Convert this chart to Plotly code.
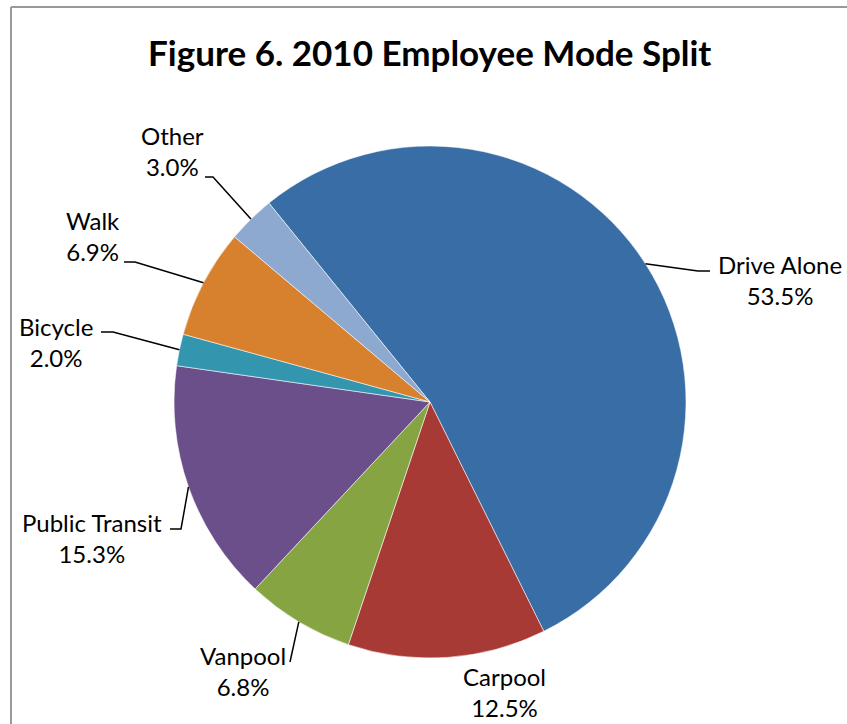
import math
import plotly.graph_objects as go

# Commute mode shares, 2010
modes = ["Drive Alone", "Carpool", "Vanpool", "Public Transit", "Bicycle", "Walk", "Other"]
shares = [53.5, 12.5, 6.8, 15.3, 2.0, 6.9, 3.0]
colors = ["#386DA6", "#A83A36", "#86A441", "#6B4F8B", "#3396AE", "#D7802D", "#8EA9D0"]

W, H = 847, 724
CX, CY, R = 430, 402, 256          # pie centre and radius in pixels
START = -39                          # angle of first slice edge, degrees clockwise from 12 o'clock

# label block centres and leader elbows/ends (pixel layout of the outside labels)
label_pos = {
    "Drive Alone": (780, 280, [(698, 271), (710, 271)]),
    "Carpool": (504, 692, None),
    "Vanpool": (243, 671, [(290, 662)]),
    "Public Transit": (92, 538, [(181, 529), (170, 529)]),
    "Bicycle": (56, 342, [(113, 332), (101, 332)]),
    "Walk": (93, 236, [(135, 262), (124, 262)]),
    "Other": (172, 151, [(213, 177), (205, 177)]),
}

fig = go.Figure()

fig.add_trace(go.Pie(
    labels=modes, values=shares, sort=False, direction="clockwise",
    rotation=START, textinfo="none", hoverinfo="label+percent",
    marker=dict(colors=colors, line=dict(color="rgba(255,255,255,0.55)", width=1)),
    domain=dict(x=[(CX - R) / W, (CX + R) / W], y=[(H - CY - R) / H, (H - CY + R) / H]),
    showlegend=False,
))

# invisible pixel-unit axes used to place labels, leaders and the frame
fig.update_layout(
    xaxis=dict(range=[0, W], visible=False, domain=[0, 1], fixedrange=True),
    yaxis=dict(range=[H, 0], visible=False, domain=[0, 1], fixedrange=True),
)

shapes = []
annotations = []
total = sum(shares)
cum = 0.0
for name, v in zip(modes, shares):
    mid = math.radians(START + (cum + v / 2) / total * 360)
    cum += v
    ex, ey = CX + R * math.sin(mid), CY - R * math.cos(mid)
    lx, ly, leader = label_pos[name]
    if leader:
        pts = [(ex, ey)] + leader
        path = "M " + " L ".join(f"{x:.1f},{y:.1f}" for x, y in pts)
        shapes.append(dict(type="path", path=path, xref="x", yref="y",
                           line=dict(color="black", width=1.5), layer="above"))
    annotations.append(dict(
        x=lx, y=ly, xref="x", yref="y", showarrow=False,
        text=f"{name}<br>{v:.1f}%", align="center",
        font=dict(family="Lato, Open Sans, sans-serif", size=24, color="black"),
        xanchor="center", yanchor="middle",
    ))

annotations.append(dict(
    x=429, y=52, xref="x", yref="y", showarrow=False,
    text="<b>Figure 6. 2010 Employee Mode Split</b>",
    font=dict(family="Lato, Open Sans, sans-serif", size=35, color="black"),
    xanchor="center", yanchor="middle",
))

# chart frame (left and top edges visible)
shapes.append(dict(type="line", x0=11, x1=11, y0=7, y1=H, xref="x", yref="y",
                   line=dict(color="#999999", width=2)))
shapes.append(dict(type="line", x0=11, x1=W, y0=7, y1=7, xref="x", yref="y",
                   line=dict(color="#999999", width=2)))

fig.update_layout(
    width=W, height=H, margin=dict(l=0, r=0, t=0, b=0),
    paper_bgcolor="white", plot_bgcolor="rgba(0,0,0,0)",
    shapes=shapes, annotations=annotations, showlegend=False,
)

fig.write_html("out.html")
